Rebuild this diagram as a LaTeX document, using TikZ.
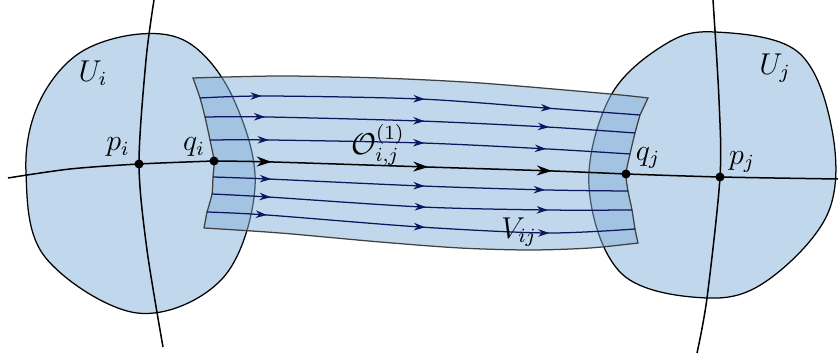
\documentclass[tikz,border=0pt]{standalone}
\usetikzlibrary{decorations.markings,arrows.meta}
\definecolor{regionblue}{RGB}{131,177,217}
\definecolor{flownavy}{RGB}{15,20,95}
\begin{document}
\begin{tikzpicture}[x=0.014cm,y=-0.014cm,font=\large,
    region/.style={fill=regionblue,fill opacity=0.5,draw=black,line width=0.5pt},
    curve/.style={line width=0.6pt},
    flow/.style={draw=flownavy,line width=0.5pt,postaction={decorate},
      decoration={markings,
        mark=at position 0.14 with {\arrow{Stealth[length=4.5pt,width=3pt]}},
        mark=at position 0.51 with {\arrow{Stealth[length=4.5pt,width=3pt]}},
        mark=at position 0.8 with {\arrow{Stealth[length=4.5pt,width=3pt]}}}},
    mainflow/.style={curve,postaction={decorate},
      decoration={markings,
        mark=at position 0.14 with {\arrow{Stealth[length=6pt,width=4pt]}},
        mark=at position 0.52 with {\arrow{Stealth[length=6pt,width=4pt]}},
        mark=at position 0.82 with {\arrow{Stealth[length=6pt,width=4pt]}}}},
    dot/.style={circle,fill=black,inner sep=0pt,minimum size=3.6pt}]
  \useasboundingbox (0,0) rectangle (838,359);
  \coordinate (pi) at (139,164);
  \coordinate (qi) at (214,161);
  \coordinate (qj) at (626,174);
  \coordinate (pj) at (720,177);
  % the two charts
  \draw[region] plot[smooth cycle,tension=0.6] coordinates {(140,34) (78,54) (38,105)
    (26,173) (45,257) (137,313) (222,279) (255,187) (234,100) (192,45)};
  \draw[region] plot[smooth cycle,tension=0.6] coordinates {(715,32) (798,52) (832,130)
    (828,213) (768,280) (707,298) (622,274) (589,187) (610,97) (664,45)};
  % the tube V_ij
  \draw[region,draw=black!75]
    plot[smooth] coordinates {(193,78) (280,76) (380,78) (480,83) (610,94) (648,98)}
    -- plot[smooth] coordinates {(640,115) (635,133) (630,154) (qj) (628,191)
      (632,210) (635,229) (638,243)}
    -- plot[smooth] coordinates {(638,243) (590,248) (530,250) (460,248) (380,242)
      (280,233) (204,228)}
    -- plot[smooth] coordinates {(207,212) (212,194) (213,177) (qi) (210,140)
      (205,117) (200,98) (193,78)}
    -- cycle;
  % flow lines
  \draw[flow] plot[smooth] coordinates {(200,98) (267,96) (420,99) (545,108) (640,115)};
  \draw[flow] plot[smooth] coordinates {(205,117) (268,117) (420,121) (547,127) (635,133)};
  \draw[flow] plot[smooth] coordinates {(210,140) (270,140) (422,143) (548,149) (630,154)};
  \draw[flow] plot[smooth] coordinates {(213,177) (268,179) (422,186) (548,190) (628,191)};
  \draw[flow] plot[smooth] coordinates {(212,194) (268,197) (422,207) (547,210) (632,210)};
  \draw[flow] plot[smooth] coordinates {(207,212) (267,215) (420,227) (547,233) (635,229)};
  % the curves through p_i and p_j
  \draw[curve] plot[smooth] coordinates {(154,0) (146,60) (pi) (147,250) (163,347)};
  \draw[curve] plot[smooth] coordinates {(713,0) (719,100) (pj) (707,298) (697,353)};
  \draw[curve] plot[smooth] coordinates {(8,178) (70,169) (pi) (qi)};
  \draw[mainflow] plot[smooth] coordinates {(qi) (273,162) (427,167) (553,171) (qj)};
  \draw[curve] plot[smooth] coordinates {(qj) (pj) (838,179)};
  \foreach \p in {pi,qi,qj,pj} \node[dot] at (\p) {};
  % labels
  \node at (93,73) {$U_i$};
  \node at (775,68) {$U_j$};
  \node at (118,147) {$p_i$};
  \node at (194,147) {$q_i$};
  \node at (648,158) {$q_j$};
  \node at (742,162) {$p_j$};
  \node at (378,145) {$\mathcal{O}^{(1)}_{i,j}$};
  \node at (519,232) {$V_{ij}$};
\end{tikzpicture}
\end{document}
